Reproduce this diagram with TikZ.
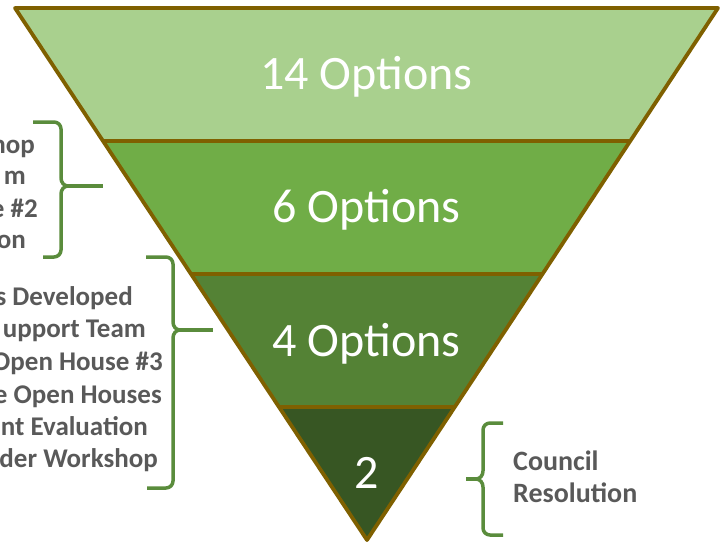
\documentclass[tikz,border=0pt]{standalone}
\usepackage{fontspec}
\setmainfont{Carlito}
\usepackage[dvipsnames]{xcolor}
\usetikzlibrary{calc}

\definecolor{bandA}{HTML}{A9D08E}
\definecolor{bandB}{HTML}{70AD47}
\definecolor{bandC}{HTML}{548235}
\definecolor{bandD}{HTML}{375623}
\definecolor{rim}{HTML}{7F6000}
\definecolor{bracegreen}{HTML}{5A8C3C}
\definecolor{notegray}{HTML}{595959}

\begin{document}
\begin{tikzpicture}[x=1pt,y=-1pt,line join=round,
    band/.style={draw=rim,line width=3.8pt},
    opt/.style={text=white,anchor=base,inner sep=0pt,font=\fontsize{48}{48}\selectfont},
    note/.style={text=notegray,anchor=base east,inner sep=0pt,font=\fontsize{27}{32}\selectfont\bfseries},
    rnote/.style={note,anchor=base west,font=\fontsize{28}{32}\selectfont\bfseries},
    brace/.style={draw=bracegreen,line width=3.5pt,rounded corners=7pt},
    tip/.style={draw=bracegreen,line width=3.5pt}]

    \useasboundingbox (0,0) rectangle (722,544);

    % funnel
    \coordinate (tl) at (15,8);
    \coordinate (tr) at (718,8);
    \coordinate (apex) at (367,540);
    \coordinate (l1) at ($(tl)!0.25!(apex)$);
    \coordinate (r1) at ($(tr)!0.25!(apex)$);
    \coordinate (l2) at ($(tl)!0.5!(apex)$);
    \coordinate (r2) at ($(tr)!0.5!(apex)$);
    \coordinate (l3) at ($(tl)!0.75!(apex)$);
    \coordinate (r3) at ($(tr)!0.75!(apex)$);

    \fill[bandA] (tl) -- (tr) -- (r1) -- (l1) -- cycle;
    \fill[bandB] (l1) -- (r1) -- (r2) -- (l2) -- cycle;
    \fill[bandC] (l2) -- (r2) -- (r3) -- (l3) -- cycle;
    \fill[bandD] (l3) -- (r3) -- (apex) -- cycle;

    \draw[band] (l1) -- (r1);
    \draw[band] (l2) -- (r2);
    \draw[band] (l3) -- (r3);
    \draw[band] (tl) -- (tr) -- (apex) -- cycle;

    \node[opt] (opt14) at (366.5,89) {14 Options};
    \node[opt] (opt6) at (366.5,222) {6 Options};
    \node[opt] (opt4) at (366.5,356) {4 Options};
    \node[opt] (opt2) at (367,488) {2};

    % left notes, cut at the page edge
    \node[note] (n1a) at (35,153) {hop};
    \node[note] (n1b) at (26,184) {m};
    \node[note] (n1c) at (38,217) {e \#2};
    \node[note] (n1d) at (26,248) {on};

    \node[note] (n2a) at (133,305) {s Developed};
    \node[note] (n2b) at (146,337) {upport Team};
    \node[note] (n2c) at (163,370) {Open House \#3};
    \node[note] (n2d) at (162,403) {e Open Houses};
    \node[note] (n2e) at (148,435) {nt Evaluation};
    \node[note] (n2f) at (158,467) {der Workshop};

    \node[rnote] (n3a) at (513,470) {Council};
    \node[rnote] (n3b) at (513,502) {Resolution};

    % braces
    \coordinate (b1top) at (33,122);
    \coordinate (b1bot) at (43,257);
    \coordinate (b1tip) at (68,186);
    \coordinate (b1end) at (103,186);
    \draw[brace] (b1top) -- (61,122) -- (61,178);
    \draw[brace] (b1bot) -- (61,257) -- (61,194);
    \draw[tip] (61,178) to[out=-90,in=180] (b1tip) to[out=180,in=90] (61,194);
    \draw[tip] (b1tip) -- (b1end);

    \coordinate (b2top) at (146,257);
    \coordinate (b2bot) at (147,488);
    \coordinate (b2tip) at (180,330);
    \coordinate (b2end) at (213,330);
    \draw[brace] (b2top) -- (173,257) -- (173,322);
    \draw[brace] (b2bot) -- (173,488) -- (173,338);
    \draw[tip] (173,322) to[out=-90,in=180] (b2tip) to[out=180,in=90] (173,338);
    \draw[tip] (b2tip) -- (b2end);

    \coordinate (b3top) at (503,423);
    \coordinate (b3bot) at (503,535);
    \coordinate (b3tip) at (476,479);
    \coordinate (b3end) at (466,479);
    \draw[brace] (b3top) -- (483,423) -- (483,471);
    \draw[brace] (b3bot) -- (483,535) -- (483,487);
    \draw[tip] (483,471) to[out=-90,in=0] (b3tip) to[out=0,in=90] (483,487);
    \draw[tip] (b3tip) -- (b3end);

\end{tikzpicture}
\end{document}
